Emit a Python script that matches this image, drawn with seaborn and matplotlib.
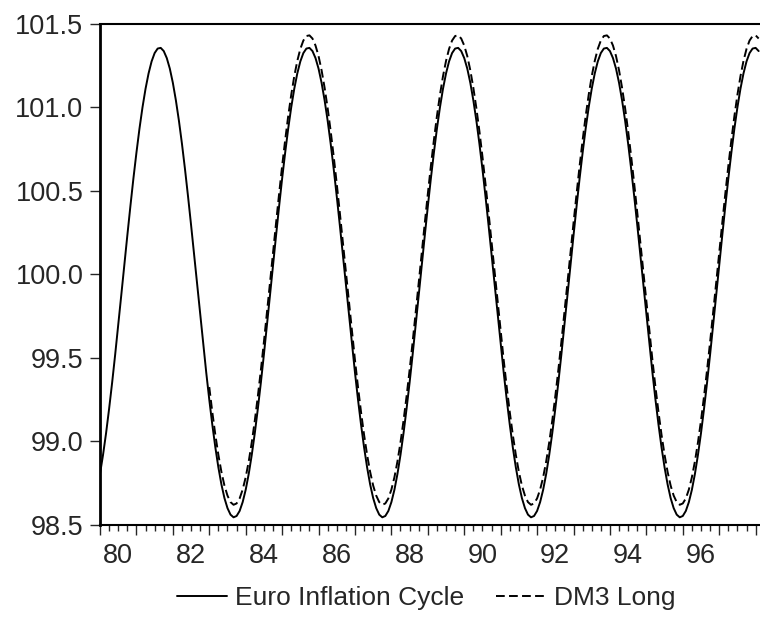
import seaborn as sns
import matplotlib.pyplot as plt
import matplotlib.ticker as mticker
import pandas as pd
import numpy as np

sns.set_style("white")
plt.rcParams['font.family'] = ['Liberation Sans', 'DejaVu Sans']

# monthly data, 1980M1 .. 1998M2 (one row per year)
euro_start = "1980-01"
euro_cycle = [
    98.806, 98.920, 99.050, 99.196, 99.353, 99.521, 99.696, 99.875, 100.055, 100.233, 100.407, 100.574,
    100.729, 100.873, 101.001, 101.112, 101.204, 101.276, 101.326, 101.353, 101.357, 101.338, 101.296, 101.233,
    101.148, 101.043, 100.921, 100.783, 100.631, 100.468, 100.297, 100.119, 99.940, 99.760, 99.583, 99.413,
    99.251, 99.101, 98.965, 98.845, 98.743, 98.661, 98.601, 98.562, 98.546, 98.554, 98.584, 98.637,
    98.711, 98.806, 98.920, 99.050, 99.196, 99.353, 99.521, 99.696, 99.875, 100.055, 100.233, 100.407,
    100.574, 100.729, 100.873, 101.001, 101.112, 101.204, 101.276, 101.326, 101.353, 101.357, 101.338, 101.296,
    101.233, 101.148, 101.043, 100.921, 100.783, 100.631, 100.468, 100.297, 100.119, 99.940, 99.760, 99.583,
    99.413, 99.251, 99.101, 98.965, 98.845, 98.743, 98.661, 98.601, 98.562, 98.546, 98.554, 98.584,
    98.637, 98.711, 98.806, 98.920, 99.050, 99.196, 99.353, 99.521, 99.696, 99.875, 100.055, 100.233,
    100.407, 100.574, 100.729, 100.873, 101.001, 101.112, 101.204, 101.276, 101.326, 101.353, 101.357, 101.338,
    101.296, 101.233, 101.148, 101.043, 100.921, 100.783, 100.631, 100.468, 100.297, 100.119, 99.940, 99.760,
    99.583, 99.413, 99.251, 99.101, 98.965, 98.845, 98.743, 98.661, 98.601, 98.562, 98.546, 98.554,
    98.584, 98.637, 98.711, 98.806, 98.920, 99.050, 99.196, 99.353, 99.521, 99.696, 99.875, 100.055,
    100.233, 100.407, 100.574, 100.729, 100.873, 101.001, 101.112, 101.204, 101.276, 101.326, 101.353, 101.357,
    101.338, 101.296, 101.233, 101.148, 101.043, 100.921, 100.783, 100.631, 100.468, 100.297, 100.119, 99.940,
    99.760, 99.583, 99.413, 99.251, 99.101, 98.965, 98.845, 98.743, 98.661, 98.601, 98.562, 98.546,
    98.554, 98.584, 98.637, 98.711, 98.806, 98.920, 99.050, 99.196, 99.353, 99.521, 99.696, 99.875,
    100.055, 100.233, 100.407, 100.574, 100.729, 100.873, 101.001, 101.112, 101.204, 101.276, 101.326, 101.353,
    101.357, 101.338,
]

# DM3 Long starts in 1983M1
dm3_start = "1983-01"
dm3_long = [
    99.326, 99.176, 99.040, 98.920, 98.818, 98.736, 98.676, 98.637, 98.621, 98.629, 98.659, 98.712,
    98.786, 98.881, 98.995, 99.125, 99.271, 99.428, 99.596, 99.771, 99.950, 100.130, 100.308, 100.482,
    100.649, 100.804, 100.948, 101.076, 101.187, 101.279, 101.351, 101.401, 101.428, 101.432, 101.413, 101.371,
    101.308, 101.223, 101.118, 100.996, 100.858, 100.706, 100.543, 100.372, 100.194, 100.015, 99.835, 99.658,
    99.488, 99.326, 99.176, 99.040, 98.920, 98.818, 98.736, 98.676, 98.637, 98.621, 98.629, 98.659,
    98.712, 98.786, 98.881, 98.995, 99.125, 99.271, 99.428, 99.596, 99.771, 99.950, 100.130, 100.308,
    100.482, 100.649, 100.804, 100.948, 101.076, 101.187, 101.279, 101.351, 101.401, 101.428, 101.432, 101.413,
    101.371, 101.308, 101.223, 101.118, 100.996, 100.858, 100.706, 100.543, 100.372, 100.194, 100.015, 99.835,
    99.658, 99.488, 99.326, 99.176, 99.040, 98.920, 98.818, 98.736, 98.676, 98.637, 98.621, 98.629,
    98.659, 98.712, 98.786, 98.881, 98.995, 99.125, 99.271, 99.428, 99.596, 99.771, 99.950, 100.130,
    100.308, 100.482, 100.649, 100.804, 100.948, 101.076, 101.187, 101.279, 101.351, 101.401, 101.428, 101.432,
    101.413, 101.371, 101.308, 101.223, 101.118, 100.996, 100.858, 100.706, 100.543, 100.372, 100.194, 100.015,
    99.835, 99.658, 99.488, 99.326, 99.176, 99.040, 98.920, 98.818, 98.736, 98.676, 98.637, 98.621,
    98.629, 98.659, 98.712, 98.786, 98.881, 98.995, 99.125, 99.271, 99.428, 99.596, 99.771, 99.950,
    100.130, 100.308, 100.482, 100.649, 100.804, 100.948, 101.076, 101.187, 101.279, 101.351, 101.401, 101.428,
    101.432, 101.413,
]
year_labels = ["80", "82", "84", "86", "88", "90", "92", "94", "96"]


def to_years(start, n):
    p = pd.period_range(start, periods=n, freq="M")
    return p.year + (p.month - 1) / 12.0


df = pd.concat([
    pd.DataFrame({"year": to_years(euro_start, len(euro_cycle)), "value": euro_cycle,
                  "series": "Euro Inflation Cycle"}),
    pd.DataFrame({"year": to_years(dm3_start, len(dm3_long)), "value": dm3_long,
                  "series": "DM3 Long"}),
])

fig = plt.figure(figsize=(7.6, 6.38), dpi=100)
ax = fig.add_axes([100 / 760, 1 - 525 / 638, 660 / 760, 501 / 638])

dash = (4.5, 2.2)
sns.lineplot(data=df, x="year", y="value", hue="series", style="series",
             palette=["black", "black"],
             dashes={"Euro Inflation Cycle": "", "DM3 Long": dash},
             linewidth=1.4, legend=False, ax=ax)

ax.set_xlim(1980, 1998.12)
ax.set_ylim(98.5, 101.5)
ax.set_xlabel("")
ax.set_ylabel("")

ax.set_yticks(np.arange(98.5, 101.51, 0.5))
ax.yaxis.set_major_formatter(mticker.FormatStrFormatter("%.1f"))
ax.tick_params(axis="y", direction="out", length=7, width=1, labelsize=19.5, pad=5, left=True)

ax.set_xticks(np.arange(1980, 1999, 1))
ax.set_xticklabels([])
ax.xaxis.set_minor_locator(mticker.MultipleLocator(0.25))
ax.tick_params(axis="x", which="major", direction="out", length=7.5, width=1, bottom=True)
ax.tick_params(axis="x", which="minor", direction="out", length=4.5, width=1, bottom=True)

for lab in year_labels:
    ax.text(1900 + int(lab) + 0.5, -0.061, lab, transform=ax.get_xaxis_transform(),
            ha="center", va="center", fontsize=19.5)

for side in ["left", "top", "bottom"]:
    ax.spines[side].set_color("black")
ax.spines["left"].set_linewidth(2)
ax.spines["bottom"].set_linewidth(1.5)
ax.spines["top"].set_linewidth(1.5)
ax.spines["right"].set_visible(False)

h1 = plt.Line2D([], [], color="black", lw=1.4)
h2 = plt.Line2D([], [], color="black", lw=1.4, dashes=dash)
fig.legend([h1, h2], ["Euro Inflation Cycle", "DM3 Long"], loc="center",
           bbox_to_anchor=(426 / 760, 1 - 598 / 638), ncol=2, frameon=False,
           fontsize=19, handlelength=1.9, handletextpad=0.3, columnspacing=1.2)

plt.savefig("out.png", dpi=100)
plt.close()
